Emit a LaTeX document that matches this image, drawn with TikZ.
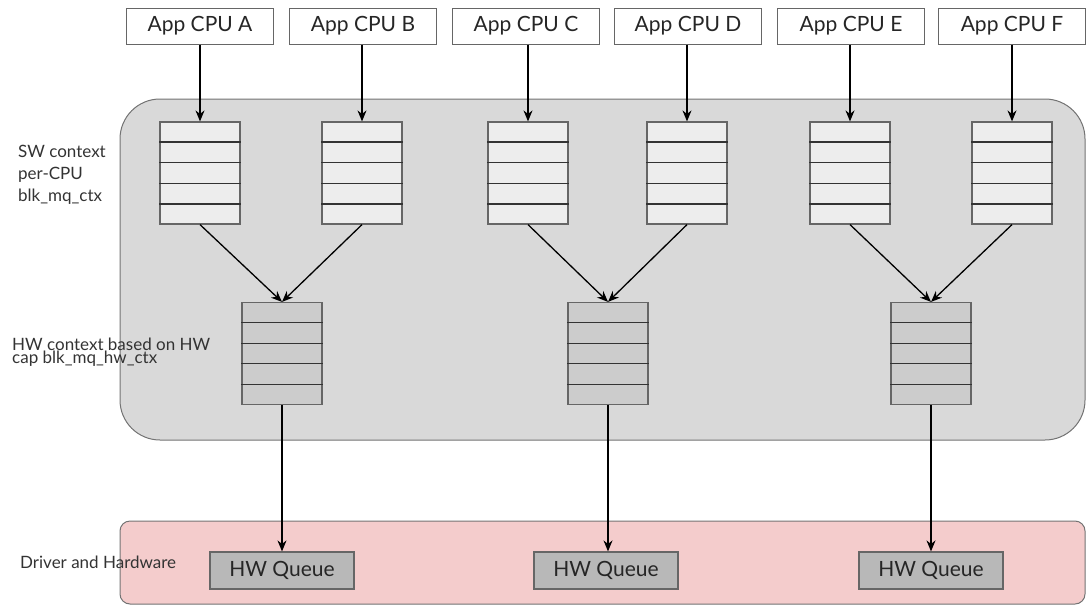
\documentclass[tikz,border=0pt]{standalone}
\usepackage{xcolor}
\usepackage{fontspec}
\setmainfont{Lato}
\usepackage{tikz}
\usetikzlibrary{arrows.meta,positioning,calc}

\definecolor{ctxgray}{HTML}{D9D9D9}
\definecolor{drvpink}{HTML}{F4CCCC}

\begin{document}
\begin{tikzpicture}[x=1pt, y=-1pt,
    cpu/.style={rectangle, draw=black!60, line width=1pt, minimum width=147pt, minimum height=36pt, inner sep=0pt, font=\fontsize{21}{24}\selectfont, text=black!85},
    swq/.style={rectangle, draw=black!60, line width=1.2pt, fill=black!7, minimum width=80pt, minimum height=102pt, inner sep=0pt},
    hwq/.style={swq, fill=black!20},
    hwqueue/.style={rectangle, draw=black!60, line width=1.2pt, fill=black!28, minimum width=144pt, minimum height=37pt, inner sep=0pt, font=\fontsize{21}{24}\selectfont, text=black!85},
    sidelabel/.style={anchor=west, align=left, inner sep=0pt, font=\fontsize{17}{22}\selectfont, text=black!80},
    arrow/.style={-{Stealth[length=11pt, width=9pt]}, line width=1.3pt}
]
    \useasboundingbox (0,0) rectangle (1086,605);

    % Containers
    \draw[fill=ctxgray, draw=black!55, line width=1pt, rounded corners=40pt] (120,99) rectangle (1085,440);
    \draw[fill=drvpink, draw=black!55, line width=1pt, rounded corners=10pt] (120,521) rectangle (1085,604);

    % Side labels
    \node[sidelabel] (swlabel) at (18,175) {SW context\\per-CPU\\blk\_mq\_ctx};
    \node[sidelabel, font=\fontsize{17}{13}\selectfont] (hwlabel) at (12,352) {HW context based on HW\\cap blk\_mq\_hw\_ctx};
    \node[sidelabel] (drvlabel) at (20,562) {Driver and Hardware};

    % Applications
    \node[cpu] (cpuA) at (200,26) {App CPU A};
    \node[cpu] (cpuB) at (363,26) {App CPU B};
    \node[cpu] (cpuC) at (526,26) {App CPU C};
    \node[cpu] (cpuD) at (688,26) {App CPU D};
    \node[cpu] (cpuE) at (851,26) {App CPU E};
    \node[cpu] (cpuF) at (1012,26) {App CPU F};

    % Software queues
    \node[swq] (swA) at (200,173) {};
    \node[swq] (swB) at (362,173) {};
    \node[swq] (swC) at (528,173) {};
    \node[swq] (swD) at (687,173) {};
    \node[swq] (swE) at (850,173) {};
    \node[swq] (swF) at (1012,173) {};

    % Hardware contexts
    \node[hwq] (hwA) at (282,353.5) {};
    \node[hwq] (hwC) at (608,353.5) {};
    \node[hwq] (hwE) at (931,353.5) {};

    % Hardware queues
    \node[hwqueue] (queueA) at (282,570.5) {HW Queue};
    \node[hwqueue] (queueC) at (606,570.5) {HW Queue};
    \node[hwqueue] (queueE) at (931,570.5) {HW Queue};

    % Queue slots
    \foreach \q in {swA,swB,swC,swD,swE,swF,hwA,hwC,hwE} {
        \foreach \i in {1,...,4} {
            \draw[black!80, line width=1.2pt] ($(\q.north west)!\i/5!(\q.south west)$) -- ($(\q.north east)!\i/5!(\q.south east)$);
        }
    }

    % Arrows
    \foreach \c in {A,B,C,D,E,F} {
        \draw[arrow] (cpu\c.south -| sw\c.north) -- (sw\c.north);
    }
    \draw[arrow] (swA.south) -- (hwA.north);
    \draw[arrow] (swB.south) -- (hwA.north);
    \draw[arrow] (swC.south) -- (hwC.north);
    \draw[arrow] (swD.south) -- (hwC.north);
    \draw[arrow] (swE.south) -- (hwE.north);
    \draw[arrow] (swF.south) -- (hwE.north);
    \draw[arrow] (hwA.south) -- (queueA.north);
    \draw[arrow] (hwC.south) -- (hwC.south |- queueC.north);
    \draw[arrow] (hwE.south) -- (queueE.north);
\end{tikzpicture}
\end{document}
